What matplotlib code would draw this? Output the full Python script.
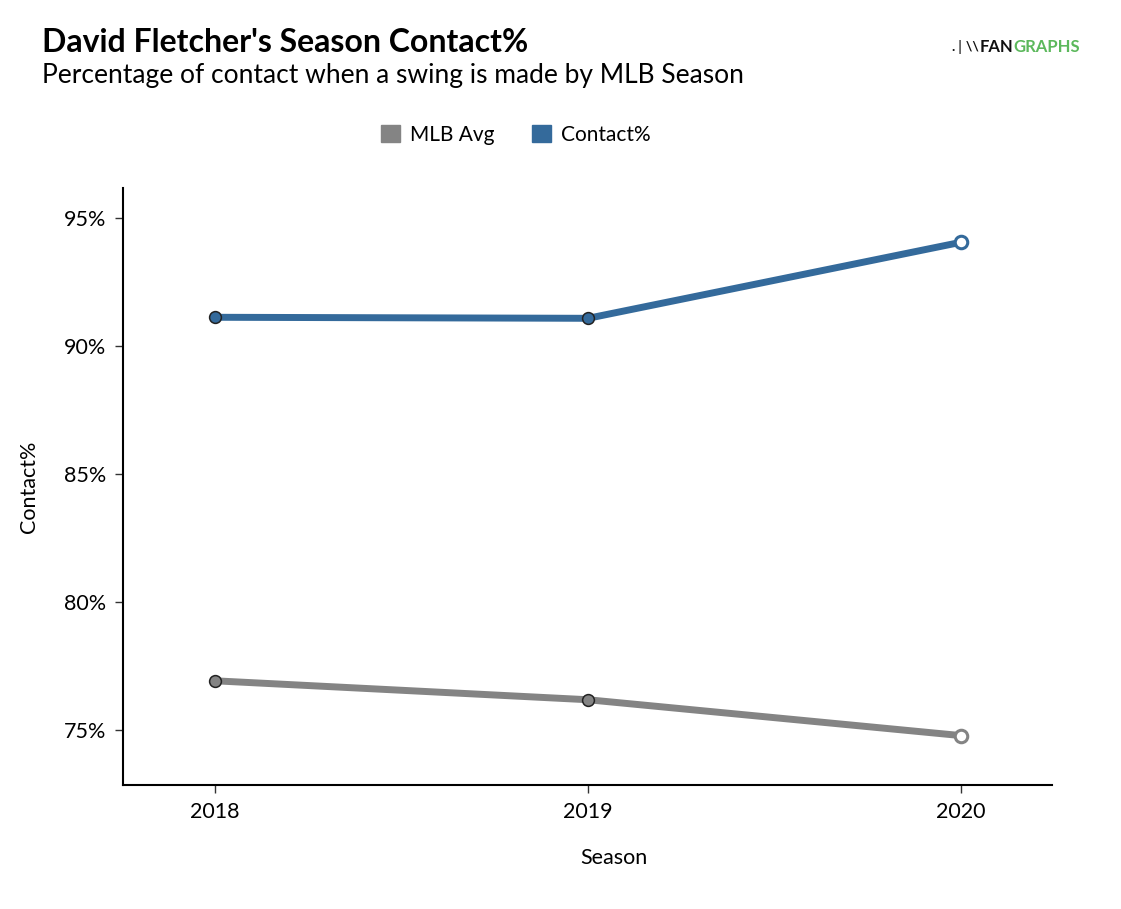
import matplotlib.pyplot as plt
from matplotlib.patches import Patch

seasons = [2018, 2019, 2020]
contact_pct = [91.12, 91.08, 94.05]
mlb_avg = [76.92, 76.18, 74.78]
y_ticks = [75, 80, 85, 90, 95]
y_tick_labels = ['75%', '80%', '85%', '90%', '95%']

blue = '#346a9b'
gray = '#848484'

plt.rcParams['font.family'] = ['Lato', 'DejaVu Sans']

fig = plt.figure(figsize=(11.21, 9.09), dpi=100)
ax = fig.add_axes([123 / 1121, 1 - 785 / 909, (1052 - 123) / 1121, (785 - 188) / 909])

for vals, color in [(mlb_avg, gray), (contact_pct, blue)]:
    ax.plot(seasons, vals, color=color, lw=5, solid_capstyle='butt', zorder=2)
    ax.plot(seasons[:-1], vals[:-1], 'o', ms=8.5, mfc=color, mec='#222222', mew=1.1, zorder=3)
    ax.plot(seasons[-1:], vals[-1:], 'o', ms=9, mfc='white', mec=color, mew=2.2, zorder=3)

ax.set_xlim(2017.753, 2020.244)
ax.set_ylim(72.85, 96.17)
ax.set_xticks(seasons)
ax.set_yticks(y_ticks)
ax.set_yticklabels(y_tick_labels)
ax.tick_params(labelsize=15.5, length=6, width=1, color='#333333', pad=6)
for s in ['top', 'right']:
    ax.spines[s].set_visible(False)
for s in ['left', 'bottom']:
    ax.spines[s].set_linewidth(1.5)

ax.set_xlabel('Season', fontsize=15.5, va='center')
ax.xaxis.set_label_coords((614 - 123) / 929, -(858 - 785) / 597)
ax.set_ylabel('Contact%', fontsize=15.5, labelpad=18)

handles = [Patch(color=gray, label='MLB Avg'), Patch(color=blue, label='Contact%')]
fig.legend(handles=handles, loc='center', bbox_to_anchor=(516 / 1121, 1 - 135 / 909),
           ncol=2, frameon=False, fontsize=15, handlelength=0.9, handleheight=0.9,
           columnspacing=1.8, handletextpad=0.5)

fig.text(42 / 1121, 1 - 42 / 909, "David Fletcher's Season Contact%", fontsize=23,
         fontweight='bold', va='center', ha='left')
fig.text(42 / 1121, 1 - 76 / 909, 'Percentage of contact when a swing is made by MLB Season',
         fontsize=19, va='center', ha='left')

# logo
fig.text(979 / 1121, 1 - 47 / 909, '.\u2758\\\\', fontsize=10, fontweight='bold',
         color='#111111', va='center', ha='right')
fig.text(1013 / 1121, 1 - 47 / 909, 'FAN', fontsize=12, fontweight='bold',
         color='#111111', va='center', ha='right')
fig.text(1013 / 1121, 1 - 47 / 909, 'GRAPHS', fontsize=12, fontweight='bold',
         color='#5cb85c', va='center', ha='left')

fig.savefig('out.png', dpi=100)
